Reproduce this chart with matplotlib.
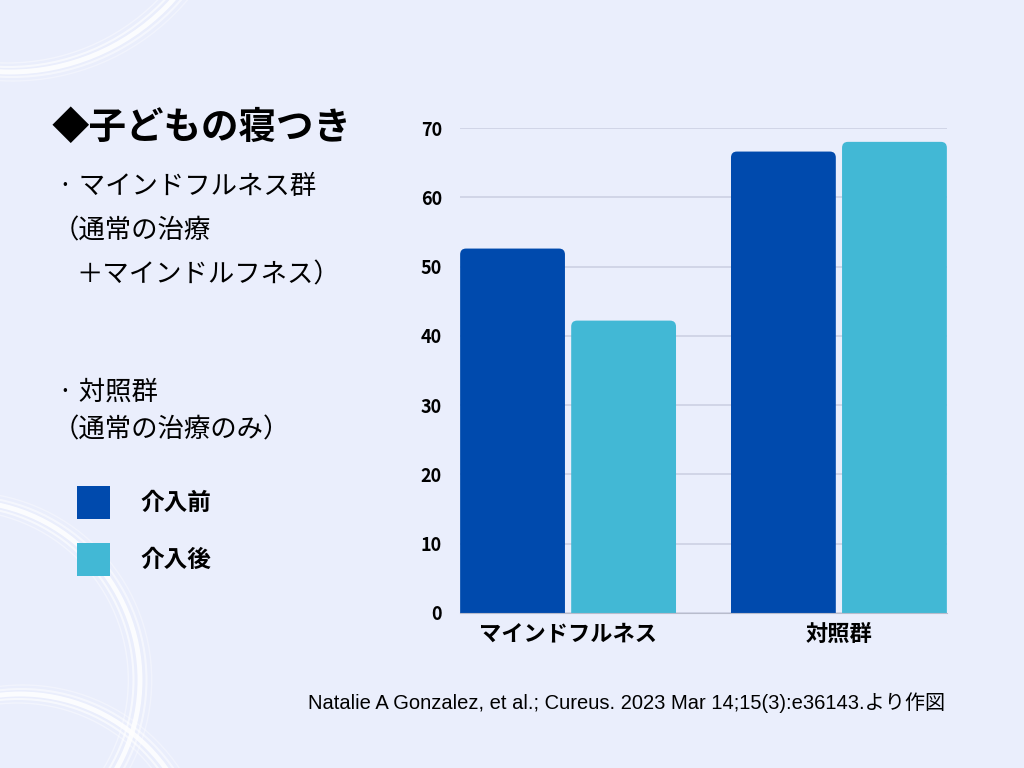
import matplotlib
matplotlib.use('Agg')
import matplotlib.pyplot as plt
from matplotlib.patches import FancyBboxPatch, Rectangle, Circle
import numpy as np

plt.rcParams['font.family'] = ['Noto Sans CJK JP', 'DejaVu Sans']

# data
groups = ['マインドフルネス', '対照群']
before = [52.6, 66.6]
after = [42.2, 68.0]
series_labels = ['介入前', '介入後']
yticks = [0, 10, 20, 30, 40, 50, 60, 70]

BG = '#EAEEFC'
DARK = '#004AAD'
LIGHT = '#42B8D5'

fig = plt.figure(figsize=(10.24, 7.68), dpi=100)
fig.patch.set_facecolor(BG)

# background decoration (white brush circles), pixel coordinates
bg = fig.add_axes([0, 0, 1, 1], zorder=0)
bg.set_xlim(0, 1024)
bg.set_ylim(768, 0)
bg.axis('off')
rings = [(10, -148, 220), (-39, 680, 179), (20, 874, 180)]
for cx, cy, r in rings:
    for dr, lw, a in [(0, 3.5, 0.85), (-5, 1.5, 0.6), (5, 1.5, 0.5), (-9, 1.0, 0.4), (9, 1.0, 0.35)]:
        bg.add_patch(Circle((cx + dr * 0.3, cy), r + dr, fill=False, edgecolor='white', lw=lw, alpha=a))

# bar chart
ax = fig.add_axes([460 / 1024, 155 / 768, 487 / 1024, 485 / 768], zorder=1)
ax.set_facecolor('none')
x = np.arange(len(groups))
width = 0.387
off = 0.205
bars1 = ax.bar(x - off, before, width, color=DARK)
bars2 = ax.bar(x + off, after, width, color=LIGHT)

# rounded top corners: redraw each bar as a rounded box that starts below 0,
# so the lower corners get clipped by the axes
aspect = (70 / 485) / (1 / 271)
for rect, col in [(b, DARK) for b in bars1] + [(b, LIGHT) for b in bars2]:
    rect.set_visible(False)
    bx, bw, bh = rect.get_x(), rect.get_width(), rect.get_height()
    ax.add_patch(FancyBboxPatch((bx, -3), bw, bh + 3, boxstyle='round,pad=0,rounding_size=0.022',
                                mutation_aspect=aspect, facecolor=col, edgecolor='none', zorder=3))

ax.set_xlim(-0.399, 1.399)
ax.set_ylim(0, 70)
ax.set_yticks(yticks)
ax.set_yticklabels([str(t) for t in yticks], fontsize=13, fontweight='bold')
ax.set_xticks(x)
ax.set_xticklabels(groups, fontsize=16, fontweight='bold')
ax.tick_params(axis='x', length=0, pad=7)
ax.tick_params(axis='y', length=0, pad=13)
ax.grid(axis='y', color='#CDD1E3', lw=1.2)
ax.set_axisbelow(True)
for s in ['top', 'right', 'left']:
    ax.spines[s].set_visible(False)
ax.spines['bottom'].set_color('#B8BCCC')
ax.spines['bottom'].set_zorder(4)

# left side texts
def px(xp, yp):
    return xp / 1024, 1 - yp / 768

fig.text(*px(52, 127), '◆子どもの寝つき', fontsize=27, fontweight='bold', va='center')
fig.text(*px(58, 186), '· マインドフルネス群', fontsize=19, va='center')
fig.text(*px(53, 231), '（通常の治療', fontsize=19, va='center')
fig.text(*px(76, 275), '＋マインドルフネス）', fontsize=19, va='center')
fig.text(*px(58, 392), '· 対照群', fontsize=19, va='center')
fig.text(*px(53, 430), '（通常の治療のみ）', fontsize=19, va='center')

# legend
for i, (lab, col) in enumerate(zip(series_labels, [DARK, LIGHT])):
    yc = 502 + i * 57
    bg.add_patch(Rectangle((77, yc - 16.5), 33, 33, facecolor=col, edgecolor='none'))
    fig.text(*px(140, yc + 1), lab, fontsize=17, fontweight='bold', va='center')

fig.text(*px(945, 703), 'Natalie A Gonzalez, et al.; Cureus. 2023 Mar 14;15(3):e36143.より作図',
         fontsize=14.5, ha='right', va='center', family=['Liberation Sans', 'Noto Sans CJK JP'])

fig.savefig('out.png', dpi=100, facecolor=BG)
